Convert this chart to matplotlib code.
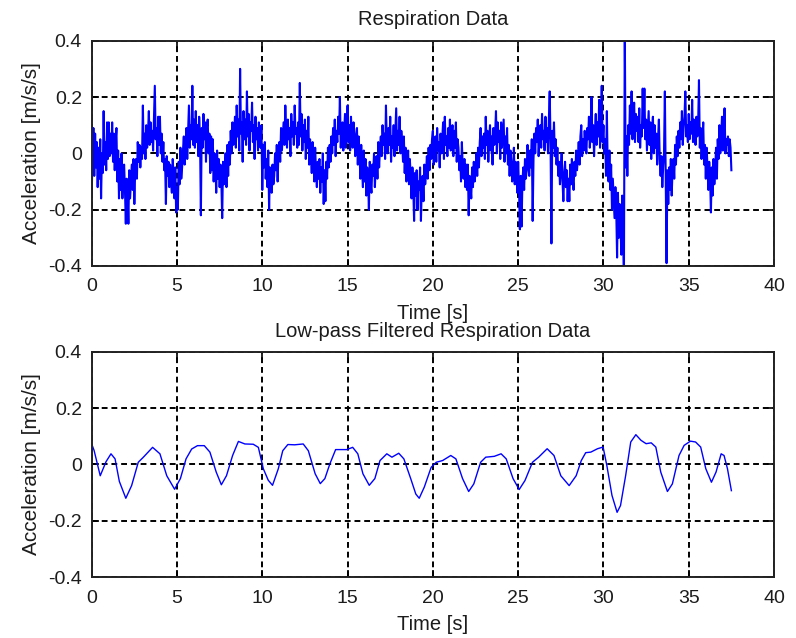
import numpy as np
import matplotlib
matplotlib.use("Agg")
import matplotlib.pyplot as plt

plt.rcParams['font.family'] = ['Liberation Sans', 'DejaVu Sans']

# raw accelerometer trace, 20 samples per second (one line = one second)
dt_raw = 0.05
raw = [
    -0.15, 0.00, 0.09, -0.08, 0.07, -0.05, 0.04, -0.12, 0.02, -0.09, 0.05, -0.16, 0.00, -0.07, 0.15, -0.04, 0.04, -0.06, 0.11, -0.02,
    0.11, -0.01, 0.07, 0.00, 0.11, -0.03, 0.07, -0.06, 0.04, 0.09, -0.10, 0.01, -0.16, -0.02, -0.13, 0.00, -0.16, -0.07, -0.04, -0.13,
    -0.25, -0.09, -0.13, -0.25, -0.06, -0.16, -0.10, -0.04, -0.13, -0.02, -0.18, -0.06, -0.02, -0.09, 0.04, -0.03, 0.03, -0.05, 0.02, -0.02,
    0.17, 0.00, 0.07, -0.02, 0.10, 0.02, 0.07, 0.15, 0.03, 0.11, 0.04, 0.08, 0.01, 0.12, 0.24, 0.05, 0.09, -0.01, 0.13, 0.03,
    0.13, 0.00, 0.07, -0.03, 0.04, -0.06, -0.02, -0.18, -0.01, -0.08, -0.03, -0.12, -0.04, -0.10, -0.14, -0.02, -0.08, -0.16, -0.05, -0.21,
    -0.12, -0.20, -0.03, -0.11, 0.02, -0.09, -0.05, 0.01, 0.06, -0.04, 0.03, 0.09, -0.02, 0.08, 0.17, 0.02, 0.10, 0.05, 0.24, 0.03,
    0.12, 0.02, 0.15, 0.04, 0.10, -0.01, 0.13, 0.06, -0.22, 0.09, 0.02, 0.14, 0.05, 0.11, -0.03, 0.09, 0.12, 0.00, 0.07, -0.07,
    0.06, -0.06, 0.05, -0.10, 0.00, -0.04, -0.14, 0.01, -0.09, -0.02, -0.12, -0.04, -0.10, -0.23, -0.03, -0.11, -0.06, 0.00, -0.12, 0.03,
    -0.08, 0.04, -0.04, 0.08, 0.00, 0.11, 0.03, 0.07, 0.13, 0.02, 0.17, 0.06, 0.12, 0.01, 0.30, 0.07, 0.11, -0.03, 0.15, 0.05,
    0.12, 0.03, 0.22, 0.06, 0.14, 0.01, 0.11, 0.08, 0.18, 0.04, 0.10, -0.02, 0.13, 0.05, 0.09, 0.01, 0.11, 0.04, 0.02, 0.10,
    -0.13, 0.03, -0.05, 0.04, -0.09, -0.02, -0.12, 0.01, -0.20, -0.05, -0.09, -0.14, -0.04, -0.11, -0.08, 0.00, -0.06, 0.03, -0.10, 0.01,
    0.04, -0.03, 0.09, 0.01, 0.06, 0.11, 0.03, 0.17, 0.07, 0.02, 0.12, 0.05, 0.09, -0.01, 0.14, 0.06, 0.11, 0.03, 0.17, 0.07,
    0.09, 0.02, 0.11, 0.03, 0.25, 0.06, 0.14, 0.01, 0.10, 0.04, 0.12, -0.02, 0.08, 0.02, 0.13, -0.04, 0.05, 0.00, -0.07, 0.04,
    -0.02, -0.10, 0.02, -0.07, -0.12, -0.03, -0.09, -0.02, -0.14, -0.05, -0.10, 0.00, -0.18, -0.06, -0.17, -0.03, -0.09, 0.02, -0.05, 0.03,
    -0.03, 0.06, 0.00, 0.09, 0.03, 0.12, -0.01, 0.08, 0.04, 0.13, 0.07, 0.20, 0.02, 0.09, 0.11, 0.01, 0.08, 0.14, 0.02, 0.06,
    0.17, 0.04, 0.10, 0.01, 0.13, 0.06, 0.02, 0.11, 0.07, -0.01, 0.05, 0.09, -0.04, 0.06, 0.00, -0.09, 0.03, -0.06, -0.12, 0.01,
    -0.10, -0.02, -0.15, -0.05, -0.09, -0.20, -0.03, -0.11, -0.14, -0.04, -0.08, 0.00, -0.12, -0.05, -0.01, -0.09, 0.04, -0.05, 0.02, 0.06,
    -0.01, 0.10, 0.03, 0.07, -0.02, 0.17, 0.04, 0.00, 0.09, 0.03, 0.13, -0.03, 0.06, 0.02, 0.10, -0.01, 0.07, 0.16, 0.01, 0.08,
    0.03, 0.13, 0.00, 0.08, 0.04, -0.03, 0.06, -0.07, 0.02, -0.10, -0.04, 0.01, -0.11, -0.02, -0.08, -0.16, -0.05, -0.12, -0.24, -0.07,
    -0.15, -0.06, -0.20, -0.10, -0.13, -0.05, -0.24, -0.12, -0.08, -0.17, -0.04, -0.11, -0.07, -0.01, -0.09, 0.02, -0.06, 0.03, -0.02, 0.05,
    0.08, -0.04, 0.02, 0.06, -0.03, 0.09, 0.01, 0.04, -0.05, 0.07, 0.00, 0.05, 0.11, -0.02, 0.13, 0.03, 0.06, -0.01, 0.09, 0.02,
    0.12, 0.01, 0.06, 0.10, -0.01, 0.08, 0.02, 0.11, -0.03, 0.05, 0.02, -0.06, -0.01, -0.10, 0.04, -0.05, -0.09, -0.02, -0.12, -0.04,
    -0.13, -0.04, -0.22, -0.08, -0.11, -0.16, -0.05, -0.12, -0.03, -0.10, -0.07, 0.00, -0.08, 0.02, -0.05, 0.04, 0.09, -0.01, 0.06, 0.02,
    0.07, -0.02, 0.13, 0.03, 0.08, -0.03, 0.05, 0.10, 0.01, 0.06, -0.04, 0.09, 0.03, 0.07, 0.15, 0.00, 0.11, 0.04, 0.08, -0.02,
    0.11, 0.02, 0.07, 0.12, -0.03, 0.06, 0.00, 0.09, -0.04, 0.03, -0.08, 0.01, -0.03, -0.10, -0.06, 0.02, -0.11, -0.03, -0.07, -0.14,
    -0.03, -0.12, -0.27, -0.08, -0.26, -0.10, -0.05, -0.13, -0.02, -0.09, -0.06, 0.03, -0.04, -0.08, 0.01, -0.05, 0.05, -0.24, -0.02, 0.07,
    0.00, 0.09, 0.04, 0.12, -0.01, 0.06, 0.10, 0.02, 0.14, 0.05, 0.08, 0.01, 0.13, 0.04, 0.09, 0.00, 0.12, 0.22, 0.03, -0.32,
    0.08, 0.02, 0.11, -0.01, 0.05, -0.04, 0.02, -0.08, -0.03, -0.11, -0.06, 0.00, -0.10, -0.17, -0.07, -0.03, -0.12, -0.06, -0.17, -0.09,
    -0.17, -0.04, -0.11, -0.02, -0.09, -0.13, -0.03, -0.08, 0.01, -0.06, -0.02, 0.04, -0.04, 0.06, 0.10, -0.01, 0.05, 0.01, 0.08, 0.03,
    0.00, 0.09, 0.05, 0.13, 0.02, 0.07, 0.20, 0.04, 0.10, -0.01, 0.08, 0.14, 0.03, 0.11, 0.06, 0.19, 0.02, 0.09, 0.24, 0.04,
    0.10, 0.00, 0.05, -0.08, 0.15, -0.05, -0.10, 0.01, -0.13, -0.04, -0.20, -0.09, -0.16, -0.23, -0.12, -0.20, -0.37, -0.14, -0.30, -0.18,
    -0.26, -0.36, -0.15, -0.27, -0.45, 0.45, -0.05, 0.06, -0.08, 0.10, 0.03, 0.17, 0.07, 0.22, 0.05, 0.12, 0.18, 0.04, 0.14, 0.08,
    0.13, 0.04, 0.16, 0.02, 0.10, 0.06, 0.23, 0.09, 0.23, 0.05, 0.12, 0.01, 0.08, 0.15, 0.03, 0.11, -0.02, 0.09, 0.13, 0.00,
    0.10, 0.02, 0.07, -0.04, 0.05, 0.12, -0.02, -0.08, -0.01, -0.12, -0.05, 0.00, 0.22, -0.10, -0.39, -0.06, -0.18, -0.05, -0.13, -0.02,
    -0.15, -0.06, -0.02, -0.09, 0.03, -0.04, 0.06, -0.01, 0.08, 0.02, 0.11, 0.05, 0.15, 0.03, 0.09, 0.13, 0.22, 0.06, 0.10, 0.04,
    0.14, 0.05, 0.11, 0.07, 0.19, 0.04, 0.12, 0.08, 0.03, 0.13, 0.06, 0.10, 0.26, 0.02, 0.09, -0.02, 0.05, 0.11, -0.04, 0.03,
    -0.09, 0.02, -0.05, -0.13, -0.03, -0.08, -0.21, -0.05, -0.15, -0.02, -0.11, -0.06, 0.02, -0.09, 0.05, -0.02, 0.10, 0.00, 0.06, 0.13,
    0.01, 0.06, 0.16, 0.00, 0.05, 0.03, 0.06, -0.01, 0.05, 0.02, -0.06,
]

# low-pass filtered trace
filt_t = [0.0, 0.14, 0.5, 0.84, 1.13, 1.37, 1.62, 2.0, 2.34, 2.73, 3.03, 3.57,
          4.0, 4.4, 4.86, 5.2, 5.53, 5.86, 6.2, 6.6, 6.93, 7.3, 7.6, 7.9,
          8.26, 8.6, 8.98, 9.47, 9.77, 10.06, 10.35, 10.6, 10.94, 11.2, 11.5,
          11.9, 12.4, 12.7, 13.1, 13.4, 13.67, 13.96, 14.3, 14.95, 15.3, 15.6,
          15.9, 16.27, 16.6, 16.9, 17.3, 17.6, 18.0, 18.3, 18.7, 19.0, 19.2,
          19.5, 19.9, 20.2, 20.57, 21.05, 21.35, 21.74, 22.1, 22.4, 22.8, 23.1,
          23.6, 24.0, 24.3, 24.7, 25.06, 25.4, 25.84, 26.2, 26.7, 27.1, 27.5,
          27.99, 28.4, 28.7, 28.96, 29.26, 29.65, 29.98, 30.2, 30.5, 30.8,
          31.0, 31.3, 31.6, 31.9, 32.2, 32.5, 32.8, 33.07, 33.36, 33.75, 34.04,
          34.43, 34.73, 35.1, 35.4, 35.7, 36.0, 36.33, 36.6, 36.9, 37.07,
          37.27, 37.5]
filt = [0.073, 0.05, -0.04, 0.01, 0.038, 0.02, -0.06, -0.12, -0.075, 0.008,
        0.026, 0.061, 0.038, -0.04, -0.088, -0.05, 0.02, 0.055, 0.067, 0.067,
        0.044, -0.027, -0.072, -0.04, 0.032, 0.082, 0.073, 0.072, 0.061,
        -0.015, -0.056, -0.074, -0.015, 0.049, 0.071, 0.07, 0.073, 0.049,
        -0.033, -0.068, -0.05, 0.002, 0.053, 0.053, 0.061, 0.038, -0.033,
        -0.074, -0.05, 0.014, 0.038, 0.026, 0.04, 0.02, -0.05, -0.105, -0.12,
        -0.08, -0.01, 0.008, 0.014, 0.032, 0.02, -0.05, -0.096, -0.069, 0.008,
        0.026, 0.029, 0.038, 0.02, -0.05, -0.089, -0.057, 0.008, 0.026, 0.056,
        0.032, -0.04, -0.075, -0.04, 0.014, 0.042, 0.044, 0.056, 0.062,
        -0.004, -0.11, -0.17, -0.146, -0.04, 0.08, 0.106, 0.086, 0.074, 0.077,
        0.062, -0.027, -0.096, -0.069, 0.032, 0.068, 0.083, 0.08, 0.062,
        -0.015, -0.063, -0.027, 0.038, 0.032, -0.015, -0.093]

raw_t = np.arange(len(raw)) * dt_raw

fig = plt.figure(figsize=(7.96, 6.38), dpi=100)
ax1 = fig.add_axes([0.1152, 0.5831, 0.8572, 0.3531])
ax2 = fig.add_axes([0.1152, 0.0956, 0.8572, 0.3527])

ax1.plot(raw_t, raw, color='blue', lw=1.5)
ax2.plot(filt_t, filt, color='blue', lw=1.0)

txt = '#1c1c1c'
for ax, title in [(ax1, 'Respiration Data'),
                  (ax2, 'Low-pass Filtered Respiration Data')]:
    ax.set_xlim(0, 40)
    ax.set_ylim(-0.4, 0.4)
    ax.set_xticks(np.arange(0, 41, 5))
    ax.set_yticks([-0.4, -0.2, 0, 0.2, 0.4])
    ax.set_yticklabels(['-0.4', '-0.2', '0', '0.2', '0.4'])
    ax.grid(True, color='black', linestyle=(0, (3, 2)), linewidth=1.4)
    ax.tick_params(direction='in', length=5, width=1.2, labelsize=14,
                   top=True, right=True, color='black', labelcolor=txt)
    ax.tick_params(axis='x', pad=9)
    ax.tick_params(axis='y', pad=7)
    for s in ax.spines.values():
        s.set_linewidth(1.4)
        s.set_color('#222222')
    ax.set_title(title, fontsize=14.5, pad=11, color=txt)
    ax.set_xlabel('Time [s]', fontsize=14.5, labelpad=6, color=txt)
    ax.set_ylabel('Acceleration [m/s/s]', fontsize=15, labelpad=5, color=txt)

fig.savefig('out.png', dpi=100)
